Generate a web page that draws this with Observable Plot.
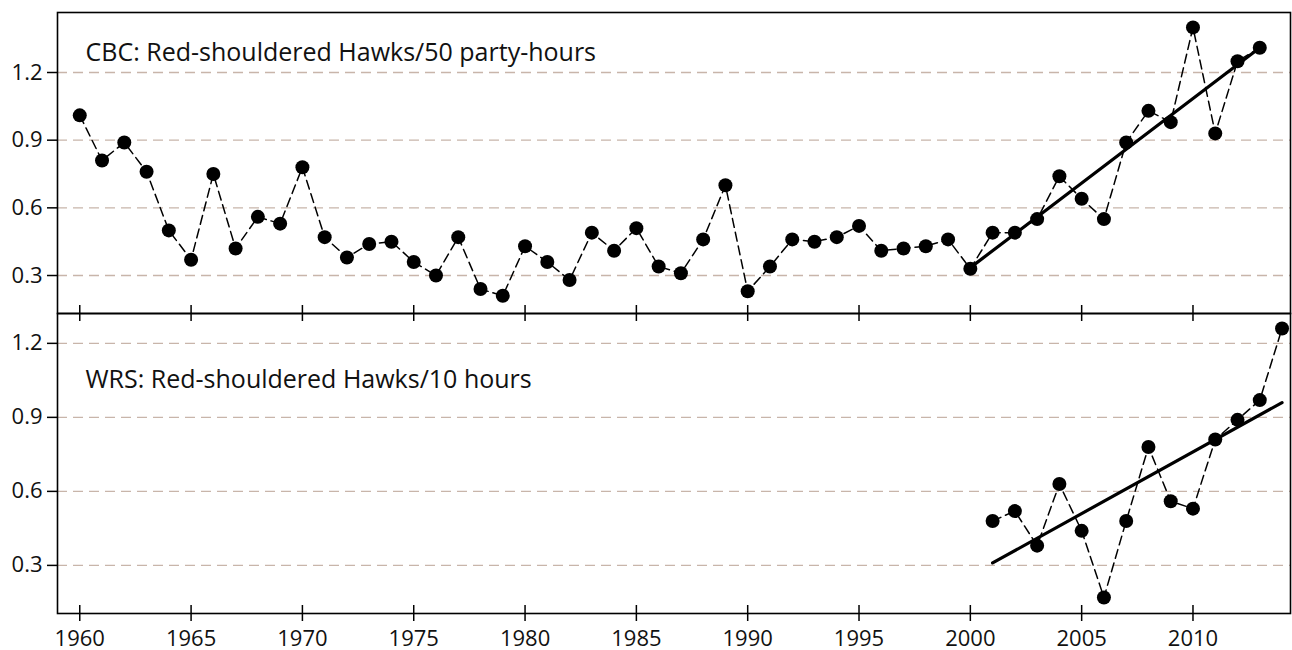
<!DOCTYPE html>
<html><head><meta charset="utf-8">
<script src="https://cdn.jsdelivr.net/npm/d3@7"></script>
<script src="https://cdn.jsdelivr.net/npm/@observablehq/plot@0.6"></script>
<style>
html,body{margin:0;padding:0;background:#fff;overflow:hidden;}
#chart svg{display:block;overflow:visible;}
</style></head><body><div id="chart"></div>
<script>
// ---- data ----
const cbcTitle = "CBC: Red-shouldered Hawks/50 party-hours";
const wrsTitle = "WRS: Red-shouldered Hawks/10 hours";

const cbcYears = [1960,1961,1962,1963,1964,1965,1966,1967,1968,1969,
  1970,1971,1972,1973,1974,1975,1976,1977,1978,1979,
  1980,1981,1982,1983,1984,1985,1986,1987,1988,1989,
  1990,1991,1992,1993,1994,1995,1996,1997,1998,1999,
  2000,2001,2002,2003,2004,2005,2006,2007,2008,2009,
  2010,2011,2012,2013];
const cbcValues = [1.01,0.81,0.89,0.76,0.50,0.37,0.75,0.42,0.56,0.53,
  0.78,0.47,0.38,0.44,0.45,0.36,0.30,0.47,0.24,0.21,
  0.43,0.36,0.28,0.49,0.41,0.51,0.34,0.31,0.46,0.70,
  0.23,0.34,0.46,0.45,0.47,0.52,0.41,0.42,0.43,0.46,
  0.33,0.49,0.49,0.55,0.74,0.64,0.55,0.89,1.03,0.98,
  1.40,0.93,1.25,1.31];
const cbcTrendYears = [2000, 2013];
const cbcTrendValues = [0.335, 1.31];

const wrsYears = [2001,2002,2003,2004,2005,2006,2007,2008,2009,2010,2011,2012,2013,2014];
const wrsValues = [0.48,0.52,0.38,0.63,0.44,0.17,0.48,0.78,0.56,0.53,0.81,0.89,0.97,1.26];
const wrsTrendYears = [2001, 2014];
const wrsTrendValues = [0.31, 0.96];

const xTickYears = [1960,1965,1970,1975,1980,1985,1990,1995,2000,2005,2010];
const yTickValues = [0.3,0.6,0.9,1.2];

// ---- layout ----
const W = 1292;
const xDomain = [1959, 2014.38];
const FONT = "'Open Sans', 'Noto Sans', sans-serif";

function panel({years, values, trendYears, trendValues, title, yDomain, height, marginTop, marginBottom, titleDy, bottomAxis}) {
  const innerH = height - marginTop - marginBottom;
  const pts = years.map((y, i) => ({year: y, value: values[i]}));
  const trend = trendYears.map((y, i) => ({year: y, value: trendValues[i]}));
  const marks = [
    Plot.gridY(yTickValues, {stroke: "#c8b5aa", strokeOpacity: 1, strokeWidth: 1.4, strokeDasharray: "10,6"}),
    Plot.axisY(yTickValues, {tickSize: 10, tickPadding: 5, label: null, tickFormat: d => d.toFixed(1), fontSize: 22, strokeWidth: 1.5, fill: "#111"}),
    Plot.tickX(xTickYears, {x: d => d, insetTop: innerH - 8, stroke: "black", strokeWidth: 1.5})
  ];
  if (bottomAxis) {
    marks.push(Plot.tickX(xTickYears, {x: d => d, insetBottom: innerH - 8, stroke: "black", strokeWidth: 1.5}));
    marks.push(Plot.axisX(xTickYears, {anchor: "bottom", tickSize: 8, tickPadding: 9, label: null, tickFormat: d => String(d), fontSize: 22, strokeWidth: 1.5, fill: "#111"}));
  }
  marks.push(
    Plot.frame({stroke: "black", strokeWidth: 1.6}),
    Plot.line(pts, {x: "year", y: "value", stroke: "black", strokeWidth: 1.5, strokeDasharray: "9,5"}),
    Plot.line(trend, {x: "year", y: "value", stroke: "black", strokeWidth: 3.2}),
    Plot.dot(pts, {x: "year", y: "value", r: 7, fill: "black", stroke: "none"}),
    Plot.text([title], {text: d => d, frameAnchor: "top-left", textAnchor: "start", lineAnchor: "top", dx: 28, dy: titleDy, fontSize: 25, fill: "#111"})
  );
  return Plot.plot({
    width: W, height, marginTop, marginBottom, marginLeft: 57, marginRight: 2,
    style: {fontFamily: FONT, fontSize: "22px", color: "black", background: "transparent", overflow: "visible"},
    x: {domain: xDomain, axis: null},
    y: {domain: yDomain, axis: null},
    marks
  });
}

const topPanel = panel({years: cbcYears, values: cbcValues, trendYears: cbcTrendYears, trendValues: cbcTrendValues,
  title: cbcTitle, yDomain: [0.1316, 1.466], height: 313, marginTop: 12, marginBottom: 0, titleDy: 31, bottomAxis: false});
const bottomPanel = panel({years: wrsYears, values: wrsValues, trendYears: wrsTrendYears, trendValues: wrsTrendValues,
  title: wrsTitle, yDomain: [0.105, 1.321], height: 337, marginTop: 0, marginBottom: 37, titleDy: 56.5, bottomAxis: true});
document.getElementById("chart").append(topPanel, bottomPanel);
</script></body></html>
